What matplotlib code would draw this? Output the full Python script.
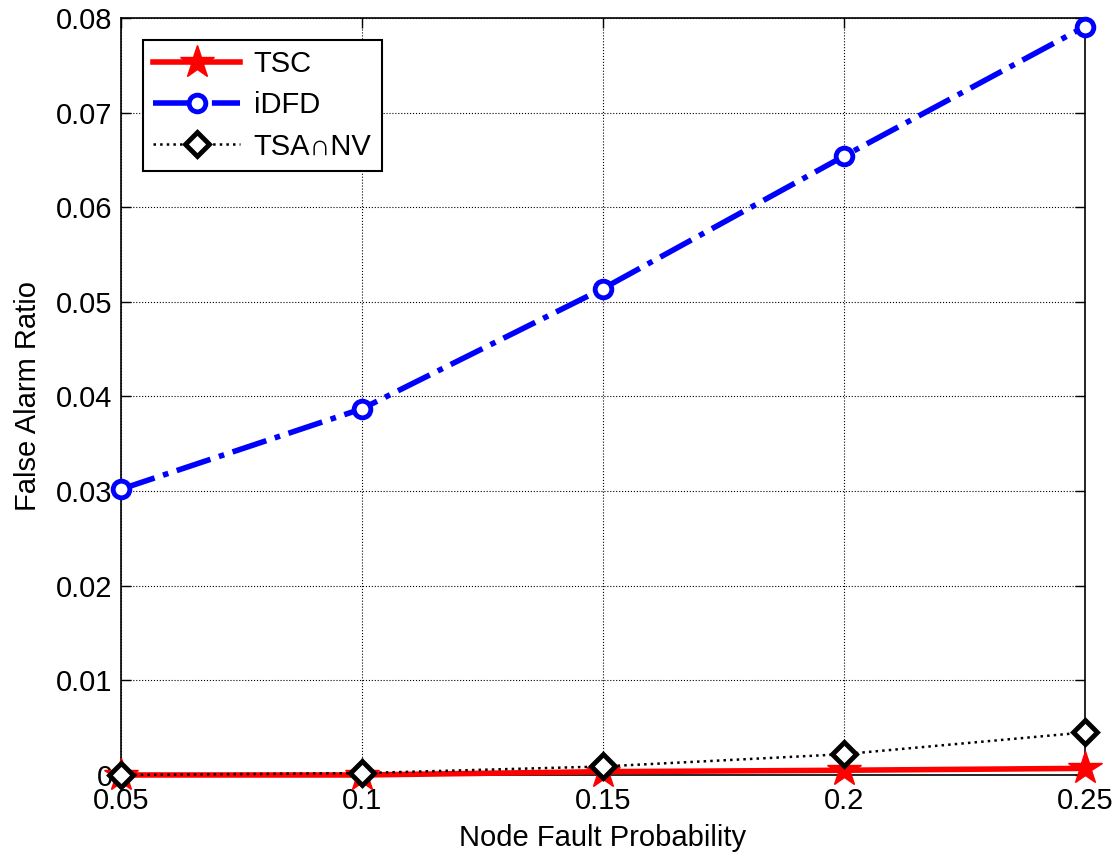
import matplotlib
matplotlib.use("Agg")
import matplotlib.pyplot as plt

plt.rcParams['font.family'] = ['Liberation Sans', 'DejaVu Sans']

# data
prob = [0.05, 0.10, 0.15, 0.20, 0.25]
tsc = [0.0, 0.0, 0.00035, 0.0005, 0.0007]
idfd = [0.0302, 0.0387, 0.0514, 0.0654, 0.0791]
tsanv = [0.0, 0.0002, 0.0009, 0.0022, 0.0045]

xticks = [0.05, 0.1, 0.15, 0.2, 0.25]
xtick_labels = ['0.05', '0.1', '0.15', '0.2', '0.25']
yticks = [0, 0.01, 0.02, 0.03, 0.04, 0.05, 0.06, 0.07, 0.08]
ytick_labels = ['0', '0.01', '0.02', '0.03', '0.04', '0.05', '0.06', '0.07', '0.08']

fig = plt.figure(figsize=(11.19, 8.57), dpi=100)
ax = fig.add_axes([0.108, 0.0957, 0.8616, 0.8833])

ax.plot(prob, tsc, color='red', linestyle='-', linewidth=4, marker='*',
        markersize=25, markerfacecolor='red', markeredgecolor='red',
        label='TSC', zorder=3, clip_on=False)
ax.plot(prob, idfd, color='blue', linestyle='-.', linewidth=4, marker='o',
        markersize=12, markerfacecolor='white', markeredgecolor='blue',
        markeredgewidth=3.5, label='iDFD', zorder=3, clip_on=False)
ax.plot(prob, tsanv, color='black', linestyle=':', linewidth=1.8, marker='D',
        markersize=12, markerfacecolor='white', markeredgecolor='black',
        markeredgewidth=3.5, label='TSA∩NV', zorder=4, clip_on=False)

ax.set_xlim(0.05, 0.25)
ax.set_ylim(0, 0.08)
ax.set_xticks(xticks)
ax.set_xticklabels(xtick_labels)
ax.set_yticks(yticks)
ax.set_yticklabels(ytick_labels)
ax.tick_params(direction='in', length=7, width=1, labelsize=21, top=True, right=True)
ax.tick_params(axis='x', pad=9)
ax.tick_params(axis='y', pad=6)
ax.grid(True, color='black', linestyle=':', linewidth=0.8)
for s in ax.spines.values():
    s.set_linewidth(1.2)

ax.set_xlabel('Node Fault Probability', fontsize=21, labelpad=6)
ax.set_ylabel('False Alarm Ratio', fontsize=21, labelpad=10)

leg = ax.legend(loc='upper left', fontsize=21, fancybox=False, framealpha=1,
                edgecolor='black', handlelength=3.0, handletextpad=0.45,
                borderpad=0.35, labelspacing=0.45, borderaxespad=0.75)
leg.get_frame().set_linewidth(1.5)

fig.savefig('out.png', dpi=100)
